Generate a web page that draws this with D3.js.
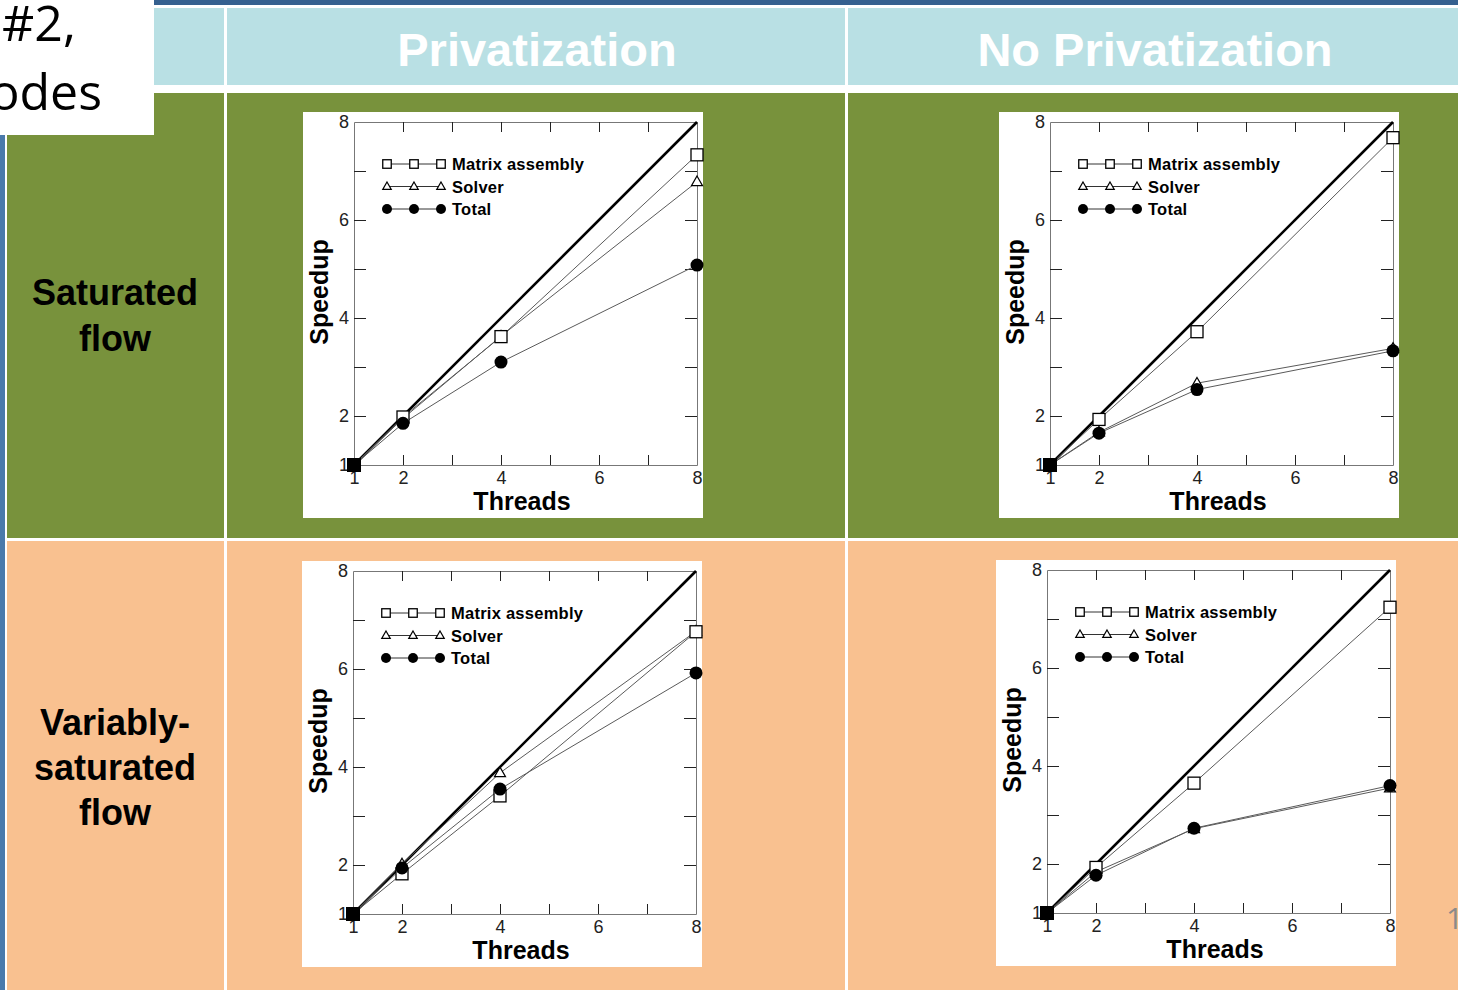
<!DOCTYPE html>
<html>
<head>
<meta charset="utf-8">
<script src="https://cdn.jsdelivr.net/npm/d3@7"></script>
<style>
  html, body { margin: 0; padding: 0; background: #ffffff; }
  svg { display: block; }
</style>
</head>
<body>
<svg id="slide" width="1458" height="990"></svg>
<script>
// ---- data ----
const threads = [1, 2, 4, 8];
const strategies = ["Privatization", "No Privatization"];
const flowLabels = [["Saturated", "flow"], ["Variably-", "saturated", "flow"]];
const seriesNames = ["Matrix assembly", "Solver", "Total"];
const xTickLabels = [1, 2, 4, 6, 8];
const yTickLabels = [1, 2, 4, 6, 8];
const minorTicks = [2, 3, 4, 5, 6, 7];
const idealSpeedup = [1, 8];

// speedup vs. thread count, one array per panel and series
const satPrivMatrix = [1, 1.98, 3.62, 7.33];
const satPrivSolver = [1, 1.95, 3.63, 6.78];
const satPrivTotal = [1, 1.85, 3.10, 5.08];

const satNoPrivMatrix = [1, 1.93, 3.72, 7.68];
const satNoPrivSolver = [1, 1.67, 2.67, 3.38];
const satNoPrivTotal = [1, 1.65, 2.54, 3.33];

const varPrivMatrix = [1, 1.82, 3.41, 6.76];
const varPrivSolver = [1, 2.02, 3.88, 6.77];
const varPrivTotal = [1, 1.94, 3.55, 5.92];

const varNoPrivMatrix = [1, 1.93, 3.65, 7.24];
const varNoPrivSolver = [1, 1.84, 2.72, 3.55];
const varNoPrivTotal = [1, 1.77, 2.73, 3.60];

const panels = [
  { row: 0, col: 0, series: [satPrivMatrix, satPrivSolver, satPrivTotal], box: [303, 112] },
  { row: 0, col: 1, series: [satNoPrivMatrix, satNoPrivSolver, satNoPrivTotal], box: [999, 112] },
  { row: 1, col: 0, series: [varPrivMatrix, varPrivSolver, varPrivTotal], box: [302, 561] },
  { row: 1, col: 1, series: [varNoPrivMatrix, varNoPrivSolver, varNoPrivTotal], box: [996, 560] }
];

// ---- table background ----
const svg = d3.select("#slide");
const C = {
  bar: "#35608f", strip: "#4a7aab", header: "#b9e0e4",
  green: "#78923c", peach: "#f9c190"
};
const colEdges = [[7, 224], [227, 845], [848, 1458]];
const rowEdges = [[93, 538], [541, 990]];
const rowFills = [C.green, C.peach];

svg.append("rect").attr("x", 0).attr("y", 0).attr("width", 1458).attr("height", 5).attr("fill", C.bar);
svg.append("rect").attr("x", 0).attr("y", 0).attr("width", 5).attr("height", 990).attr("fill", C.strip);

colEdges.forEach(([x0, x1]) => {
  svg.append("rect").attr("x", x0).attr("y", 8).attr("width", x1 - x0).attr("height", 77).attr("fill", C.header);
});
rowEdges.forEach(([y0, y1], r) => {
  colEdges.forEach(([x0, x1]) => {
    svg.append("rect").attr("x", x0).attr("y", y0).attr("width", x1 - x0).attr("height", y1 - y0).attr("fill", rowFills[r]);
  });
});

// column headers
strategies.forEach((s, i) => {
  const [x0, x1] = colEdges[i + 1];
  svg.append("text")
    .attr("x", (x0 + x1) / 2 + (i === 0 ? 1 : 2)).attr("y", 66)
    .attr("text-anchor", "middle")
    .attr("font-family", "Liberation Sans, Arial, sans-serif")
    .attr("font-weight", "bold").attr("font-size", 47)
    .attr("fill", "#ffffff").text(s);
});

// row headers
const rowBaselines = [[305, 351], [735, 780, 825]];
flowLabels.forEach((lines, r) => {
  lines.forEach((t, k) => {
    svg.append("text")
      .attr("x", 115).attr("y", rowBaselines[r][k])
      .attr("text-anchor", "middle")
      .attr("font-family", "Liberation Sans, Arial, sans-serif")
      .attr("font-weight", "bold").attr("font-size", 36)
      .attr("fill", "#000").text(t);
  });
});

// slide title fragment in the white corner box
svg.append("rect").attr("x", 0).attr("y", 0).attr("width", 154).attr("height", 135).attr("fill", "#ffffff");
svg.append("text").attr("x", 2).attr("y", 41)
  .attr("font-family", "Open Sans, sans-serif").attr("font-size", 50).attr("fill", "#000").text("#2,");
svg.append("text").attr("x", 102).attr("y", 110).attr("text-anchor", "end")
  .attr("font-family", "Open Sans, sans-serif").attr("font-size", 50).attr("fill", "#000").text("Nodes");

// slide number
svg.append("text").attr("x", 1446).attr("y", 929)
  .attr("font-family", "Open Sans, sans-serif").attr("font-size", 30).attr("fill", "#8a8a8a").text("1");

// ---- charts ----
const boxW = 400, boxH = 406;
const m = { left: 51, top: 10 };
const plotW = 343, plotH = 343;
const lineColor = "#5a5a5a";
const font = "Liberation Sans, Arial, sans-serif";

function drawMarker(g, type, cx, cy, size) {
  if (type === 0) {
    g.append("rect").attr("x", cx - size / 2).attr("y", cy - size / 2)
      .attr("width", size).attr("height", size)
      .attr("fill", "#fff").attr("stroke", "#000").attr("stroke-width", 1.3);
  } else if (type === 1) {
    const h = size * 0.87;
    g.append("path")
      .attr("d", `M${cx},${cy - h * 0.6}L${cx + size / 2},${cy + h * 0.4}L${cx - size / 2},${cy + h * 0.4}Z`)
      .attr("fill", "#fff").attr("stroke", "#000").attr("stroke-width", 1.2);
  } else {
    g.append("circle").attr("cx", cx).attr("cy", cy).attr("r", size / 2).attr("fill", "#000");
  }
}

panels.forEach(p => {
  const box = svg.append("g").attr("transform", `translate(${p.box[0]},${p.box[1]})`);
  box.append("rect").attr("width", boxW).attr("height", boxH).attr("fill", "#fff");

  const g = box.append("g").attr("transform", `translate(${m.left},${m.top})`);
  const x = d3.scaleLinear().domain([1, 8]).range([0, plotW]);
  const y = d3.scaleLinear().domain([1, 8]).range([plotH, 0]);
  const fmt = d => (xTickLabels.includes(d) ? d : "");

  const styleAxis = sel => {
    sel.attr("font-size", 18).attr("font-family", font);
    sel.select(".domain").attr("stroke", "#777").attr("stroke-width", 1);
    sel.selectAll(".tick line").attr("stroke", "#222").attr("stroke-width", 1);
    sel.selectAll(".tick text").attr("font-family", font).attr("font-size", 18).attr("fill", "#222");
  };

  // frame with inward ticks on all four sides
  g.append("g").attr("transform", `translate(0,${plotH})`)
    .call(d3.axisBottom(x).tickValues([1, ...minorTicks, 8]).tickSizeInner(-10).tickSizeOuter(0).tickPadding(6).tickFormat(fmt))
    .call(styleAxis)
    .call(s => s.selectAll(".tick").filter(d => d === 1 || d === 8).select("line").remove());
  g.append("g")
    .call(d3.axisTop(x).tickValues(minorTicks).tickSizeInner(-10).tickSizeOuter(0).tickFormat(""))
    .call(styleAxis);
  g.append("g")
    .call(d3.axisLeft(y).tickValues([1, ...minorTicks, 8]).tickSizeInner(-12).tickSizeOuter(0).tickPadding(5)
      .tickFormat(d => (yTickLabels.includes(d) ? d : "")))
    .call(styleAxis)
    .call(s => s.selectAll(".tick").filter(d => d === 1 || d === 8).select("line").remove());
  g.append("g").attr("transform", `translate(${plotW},0)`)
    .call(d3.axisRight(y).tickValues(minorTicks).tickSizeInner(-12).tickSizeOuter(0).tickFormat(""))
    .call(styleAxis);

  // axis titles
  g.append("text").attr("x", 168).attr("y", plotH + 45).attr("text-anchor", "middle")
    .attr("font-family", font).attr("font-weight", "bold").attr("font-size", 25).attr("fill", "#000").text("Threads");
  g.append("text").attr("transform", `translate(-26,${170}) rotate(-90)`).attr("text-anchor", "middle")
    .attr("font-family", font).attr("font-weight", "bold").attr("font-size", 25).attr("fill", "#000").text("Speedup");

  // ideal (linear) speedup
  g.append("line")
    .attr("x1", x(idealSpeedup[0])).attr("y1", y(idealSpeedup[0]))
    .attr("x2", x(idealSpeedup[1])).attr("y2", y(idealSpeedup[1]))
    .attr("stroke", "#000").attr("stroke-width", 2.6);

  // series lines
  const line = d3.line().x((d, i) => x(threads[i])).y(d => y(d));
  p.series.forEach(vals => {
    g.append("path").attr("d", line(vals)).attr("fill", "none")
      .attr("stroke", lineColor).attr("stroke-width", 1);
  });

  // markers (solver, matrix, total order)
  const mk = g.append("g");
  [1, 0, 2].forEach(si => {
    p.series[si].forEach((v, i) => {
      if (i === 0) return;
      const size = si === 0 ? 12 : (si === 1 ? 11 : 13);
      drawMarker(mk, si, x(threads[i]), y(v), size);
    });
  });
  // all series coincide at one thread
  mk.append("rect")
    .attr("x", x(threads[0]) - 7).attr("y", y(p.series[0][0]) - 7)
    .attr("width", 14).attr("height", 14).attr("fill", "#000");

  // legend
  const lg = g.append("g");
  seriesNames.forEach((name, si) => {
    const ly = 42 + si * 22.5;
    lg.append("line").attr("x1", 33).attr("x2", 87).attr("y1", ly).attr("y2", ly)
      .attr("stroke", "#333").attr("stroke-width", 1);
    [33, 60, 87].forEach(lx => drawMarker(lg, si, lx, ly, si === 2 ? 10 : 8.5));
    lg.append("text").attr("x", 98).attr("y", ly + 6)
      .attr("font-family", font).attr("font-weight", "bold").attr("font-size", 16.5)
      .attr("letter-spacing", 0.25)
      .attr("fill", "#000").text(name);
  });
});
</script>
</body>
</html>
